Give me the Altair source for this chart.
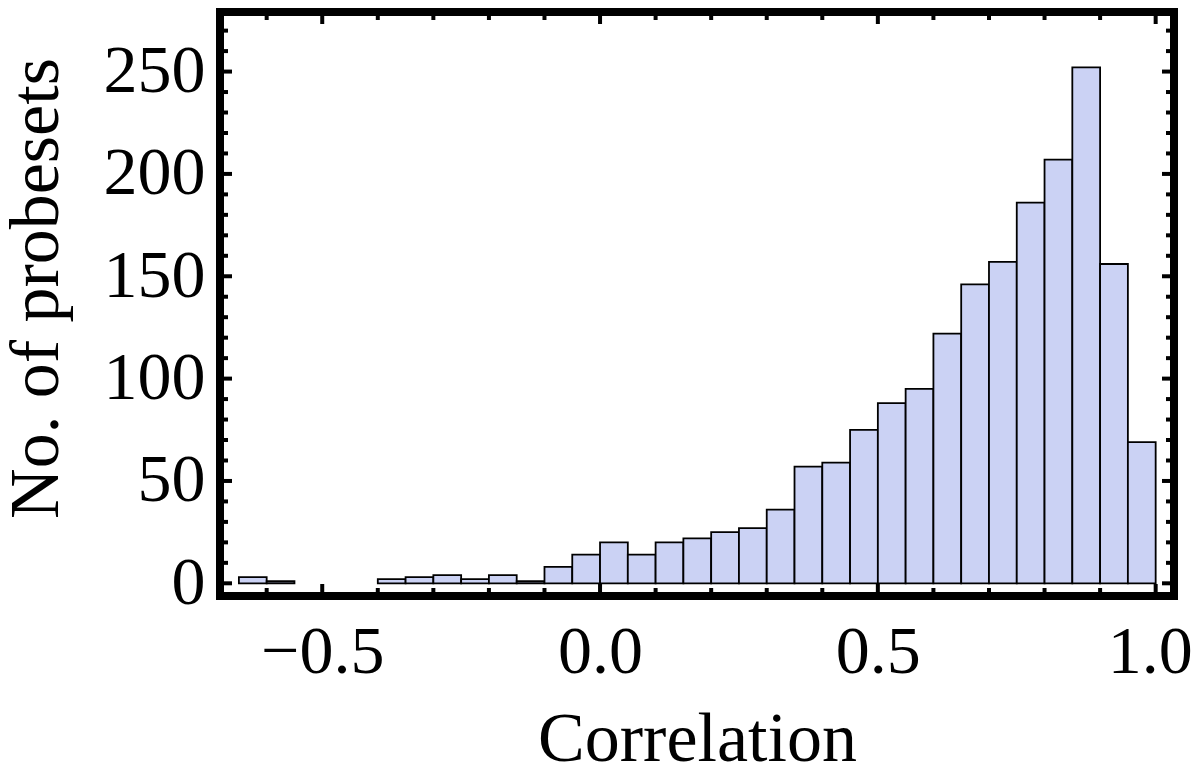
import altair as alt
import pandas as pd

# ---- data ----
bin_starts = [-0.65, -0.60, -0.55, -0.50, -0.45, -0.40, -0.35, -0.30, -0.25, -0.20, -0.15,
              -0.10, -0.05, 0.00, 0.05, 0.10, 0.15, 0.20, 0.25, 0.30, 0.35, 0.40, 0.45,
              0.50, 0.55, 0.60, 0.65, 0.70, 0.75, 0.80, 0.85, 0.90, 0.95]
counts = [3, 1, 0, 0, 0, 2, 3, 4, 2, 4, 1,
          8, 14, 20, 14, 20, 22, 25, 27, 36, 57, 59, 75,
          88, 95, 122, 146, 157, 186, 207, 252, 156, 69]
bin_width = 0.05

x_label_values = [-0.5, 0.0, 0.5, 1.0]
y_label_values = [0, 50, 100, 150, 200, 250]
x_major_ticks = [-0.5, 0.0, 0.5, 1.0]
x_minor_ticks = [-0.6, -0.4, -0.3, -0.2, -0.1, 0.1, 0.2, 0.3, 0.4, 0.6, 0.7, 0.8, 0.9]
y_major_ticks = [0, 50, 100, 150, 200, 250]
y_minor_ticks = [10, 20, 30, 40, 60, 70, 80, 90, 110, 120, 130, 140, 160, 170, 180, 190,
                 210, 220, 230, 240, 260, 270]

x_domain = [-0.684, 1.033]
y_domain = [-6.2, 279.1]

# ---- layout / style ----
W, H = 954, 584
FONT = "Liberation Serif"
LABEL_FS = 68
TITLE_FS = 70
FRAME = 8
MAJ = FRAME / 2 + 8
MIN = FRAME / 2 + 4
TICK_W = 4

xscale = alt.Scale(domain=x_domain, nice=False, zero=False)
yscale = alt.Scale(domain=y_domain, nice=False, zero=False)

x_axis = alt.Axis(values=x_label_values, format=".1f", ticks=False, domain=False,
                  grid=False, labelPadding=22, title="Correlation",
                  labelOffset={"condition": {"test": "datum.value >= 1", "value": -6}, "value": 0},
                  titleY=164, titleBaseline="alphabetic")
y_axis = alt.Axis(values=y_label_values, ticks=False, domain=False, grid=False,
                  labelPadding=15, title="No. of probesets",
                  titleX=-163, titleY=276, titleAngle=-90,
                  titleBaseline="alphabetic", titleAlign="center")

bars_df = pd.DataFrame({"start": bin_starts, "count": counts})

bars = (
    alt.Chart(bars_df)
    .transform_filter("datum.count > 0")
    .transform_calculate(end=f"datum.start + {bin_width}", base="0")
    .mark_rect(fill="#CBD2F4", stroke="black", strokeWidth=1.8)
    .encode(
        x=alt.X("start:Q", scale=xscale, axis=x_axis),
        x2="end:Q",
        y=alt.Y("count:Q", scale=yscale, axis=y_axis),
        y2="base:Q",
    )
)

xmaj_df = pd.DataFrame({"t": x_major_ticks})
xmin_df = pd.DataFrame({"t": x_minor_ticks})
ymaj_df = pd.DataFrame({"t": y_major_ticks})
ymin_df = pd.DataFrame({"t": y_minor_ticks})


def xticks(df, length):
    bottom = alt.Chart(df).mark_rule(color="black", strokeWidth=TICK_W).encode(
        x=alt.X("t:Q", scale=xscale, axis=x_axis),
        y=alt.value(H), y2=alt.value(H - length))
    top = alt.Chart(df).mark_rule(color="black", strokeWidth=TICK_W).encode(
        x=alt.X("t:Q", scale=xscale, axis=x_axis),
        y=alt.value(0), y2=alt.value(length))
    return [bottom, top]


def yticks(df, length):
    left = alt.Chart(df).mark_rule(color="black", strokeWidth=TICK_W).encode(
        y=alt.Y("t:Q", scale=yscale, axis=y_axis),
        x=alt.value(0), x2=alt.value(length))
    right = alt.Chart(df).mark_rule(color="black", strokeWidth=TICK_W).encode(
        y=alt.Y("t:Q", scale=yscale, axis=y_axis),
        x=alt.value(W), x2=alt.value(W - length))
    return [left, right]


layers = [bars] + xticks(xmaj_df, MAJ) + xticks(xmin_df, MIN) + yticks(ymaj_df, MAJ) + yticks(ymin_df, MIN)

chart = (
    alt.layer(*layers)
    .properties(
        width=W, height=H,
        autosize=alt.AutoSizeParams(type="none"),
        padding={"left": 212, "top": 4, "right": 18, "bottom": 170},
        background="white",
    )
    .configure_view(stroke="black", strokeWidth=FRAME)
    .configure_axis(
        labelFont=FONT, labelFontSize=LABEL_FS, labelColor="black",
        titleFont=FONT, titleFontSize=TITLE_FS, titleColor="black", titleFontWeight="normal",
    )
)

chart.save("out.html", embed_options={"renderer": "svg", "actions": False})
